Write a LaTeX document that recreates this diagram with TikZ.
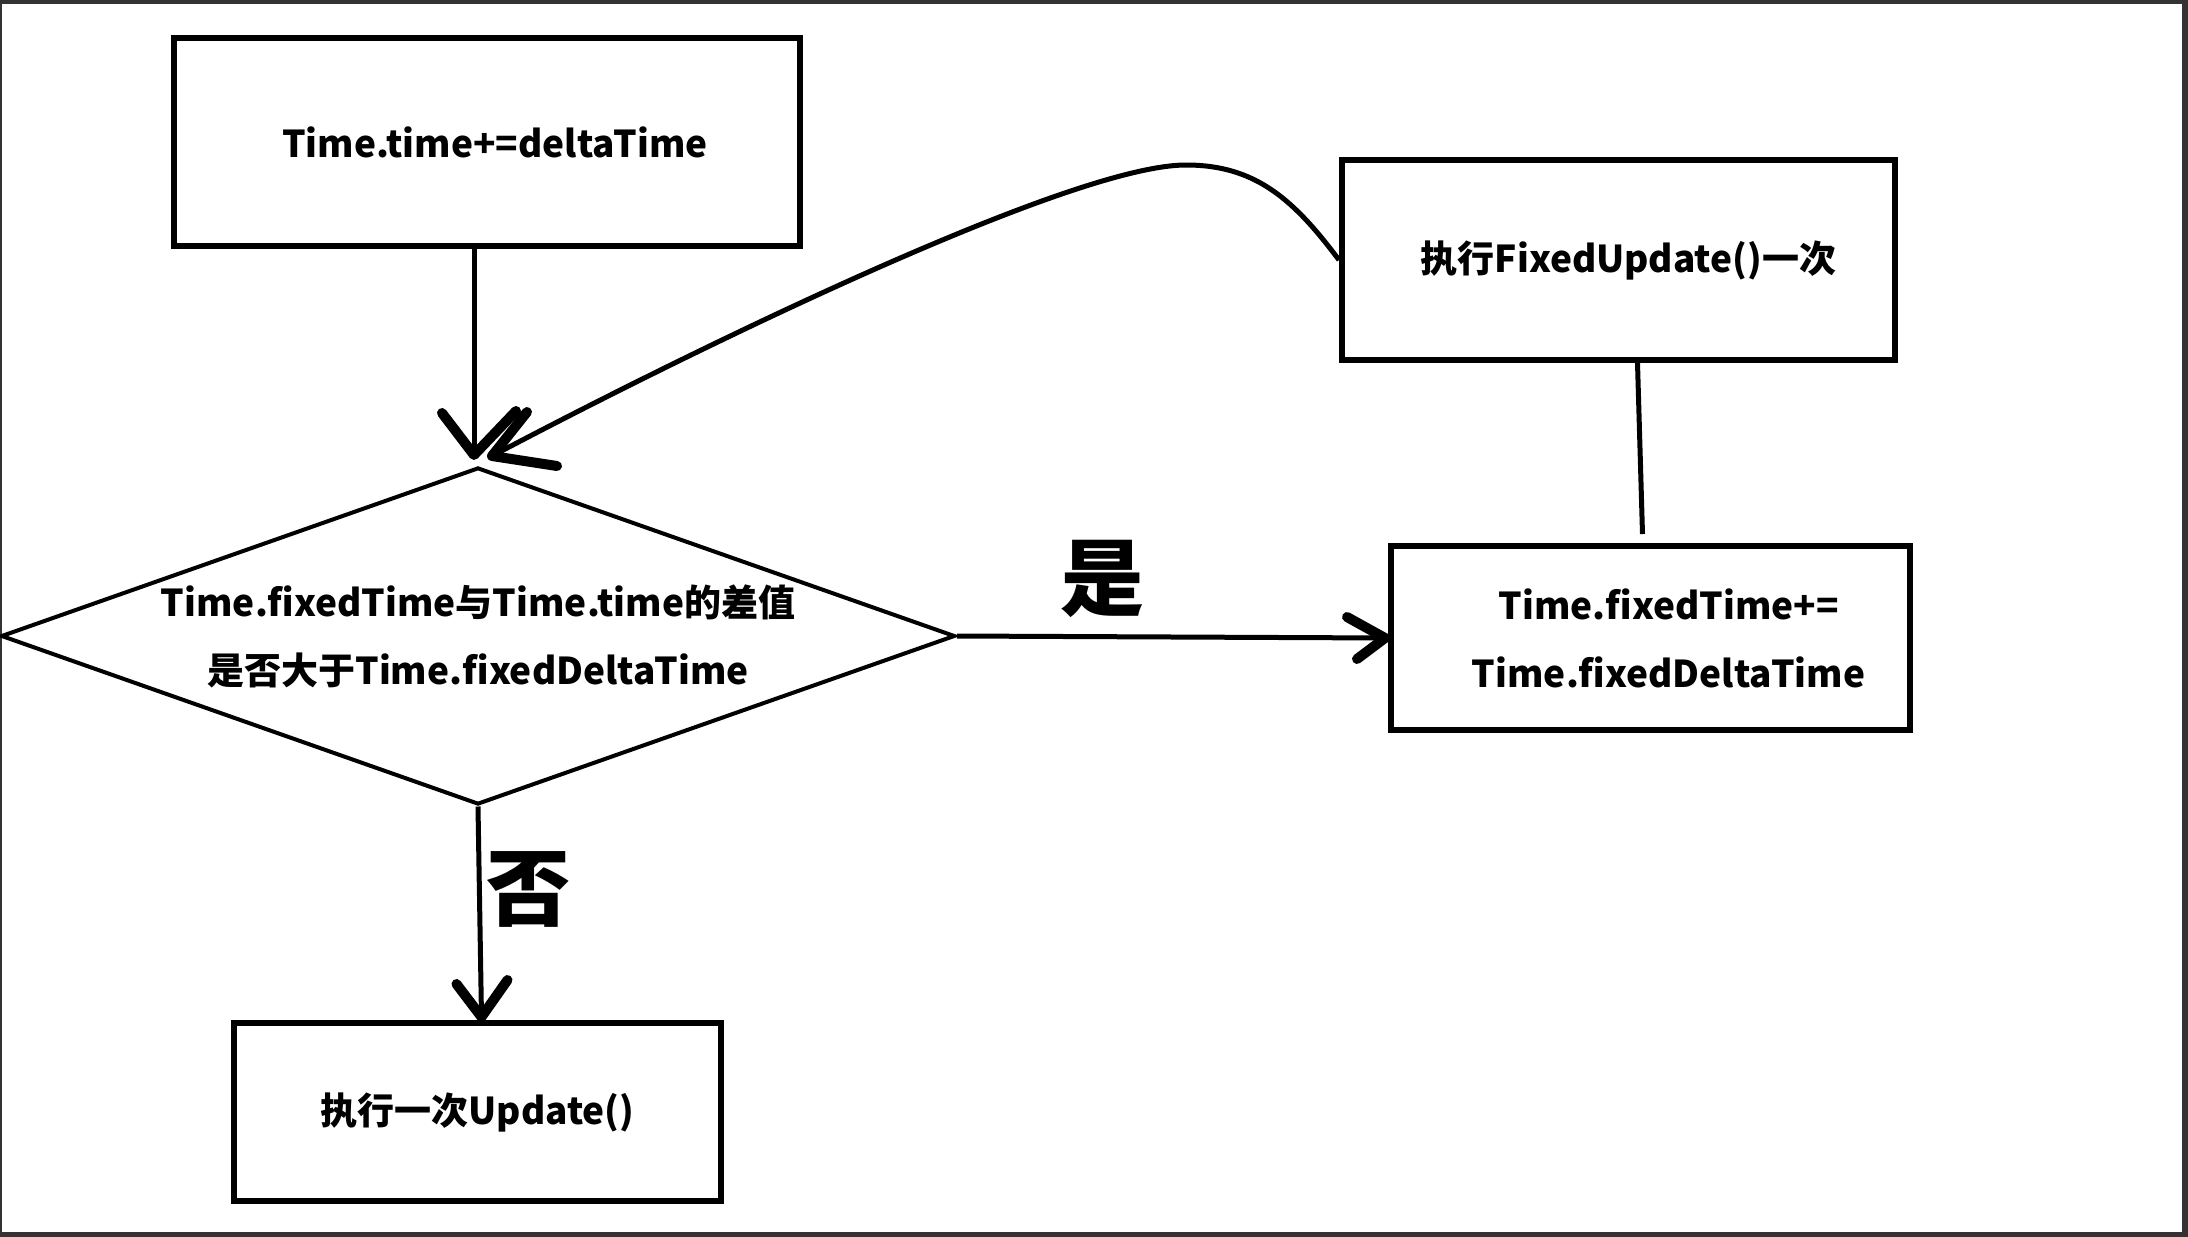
\documentclass[tikz,border=0pt]{standalone}
\usepackage{fontspec}
\setmainfont{Noto Sans CJK SC}
\usetikzlibrary{shapes.geometric,calc}
\begin{document}
\begin{tikzpicture}[x=1pt,y=-1pt,
  box/.style={draw,line width=6pt,rectangle,inner sep=0pt,align=center,
    font=\bfseries\fontsize{37}{68}\selectfont},
  dia/.style={draw,line width=4pt,diamond,inner sep=0pt,aspect=2.84,align=center,
    minimum width=954pt,minimum height=337pt,font=\bfseries\fontsize{37}{68}\selectfont},
  conn/.style={line width=5pt},
  head/.style={line width=10pt,line cap=round,line join=round},
  hand/.style={font=\bfseries\fontsize{84}{84}\selectfont,inner sep=0pt}]
\fill[black!80] (0,0) rectangle (2188,1237);
\fill[white] (2,4) rectangle (2182,1232);
\useasboundingbox (0,0) rectangle (2188,1237);

\node[box,minimum width=626pt,minimum height=208pt] (b1) at (487,142) {\hspace*{16pt}Time.time+=deltaTime};
\node[box,minimum width=553pt,minimum height=200pt] (b2) at (1618.5,260) {\hspace*{20pt}执行FixedUpdate()一次};
\node[box,minimum width=519pt,minimum height=184pt] (b3) at (1650.5,638) {\hspace*{36pt}Time.fixedTime+=\\\hspace*{36pt}Time.fixedDeltaTime};
\node[box,minimum width=487pt,minimum height=178pt] (b4) at (477.5,1112) {执行一次Update()};
\node[dia] (d) at (478,636) {Time.fixedTime与Time.time的差值\\是否大于Time.fixedDeltaTime};

% box1 -> diamond
\coordinate (t1) at (474,455);
\draw[conn] ($(b1.south)+(-13,0)$) -- (t1);
\draw[head] ($(t1)+(-32,-42)$) -- (t1) -- ($(t1)+(42,-44)$);

% box2 -> diamond (curve)
\coordinate (pk) at (1186,165);
\coordinate (ct) at (492,456);
\draw[conn] (b2.west) .. controls +(-45,-60) and +(70,0) .. (pk)
  .. controls +(-120,0) and +(170,-90) .. (ct);
\draw[head] ($(ct)+(35,-44)$) -- (ct) -- ($(ct)+(65,10)$);

% box2 -- box3
\draw[conn] ($(b2.south)+(19,0)$) -- ($(b3.north)+(-8,-9)$);

% diamond -> box3 (yes)
\coordinate (t3) at ($(b3.west)+(-3,0)$);
\draw[conn] (d.east) -- (b3.west);
\draw[head] ($(t3)+(-38,-21)$) -- (t3) -- ($(t3)+(-28,21)$);
\node[hand] (yes) at (1102,579) {是};

% diamond -> box4 (no)
\coordinate (t4) at ($(b4.north)+(4,-3)$);
\draw[conn] (d.south) -- (t4);
\draw[head] ($(t4)+(-25,-33)$) -- (t4) -- ($(t4)+(26,-37)$);
\node[hand] (no) at (528,889) {否};
\end{tikzpicture}
\end{document}
